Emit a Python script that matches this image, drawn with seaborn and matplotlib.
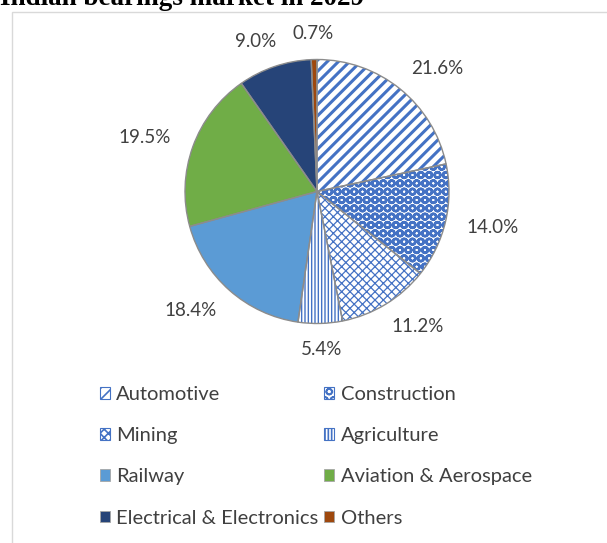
import matplotlib
matplotlib.use("Agg")
import numpy as np
import matplotlib.pyplot as plt
from matplotlib.patches import Rectangle, Patch
import seaborn as sns

sectors = ["Automotive", "Construction", "Mining", "Agriculture", "Railway",
           "Aviation & Aerospace", "Electrical & Electronics", "Others"]
shares = [21.6, 14.0, 11.2, 5.4, 18.4, 19.5, 9.0, 0.7]
title = "Indian bearings market in 2029"

sns.set_theme(style="white")
plt.rcParams["font.family"] = ["Lato", "DejaVu Sans"]
plt.rcParams["hatch.linewidth"] = 1.2

blue = "#4472C4"
fills = ["white", "white", "white", "white", "#5B9BD5", "#70AD47", "#264478", "#9E480E"]
hatches = ["///", "OO", "xxxx", "|||||", None, None, None, None]
hatch_lw = [2.2, 1.8, 0.9, 1.0, 1, 1, 1, 1]
grey_txt = "#404040"

W, H = 607, 543
R_PX = 132  # pie radius in pixels

fig = plt.figure(figsize=(W / 100, H / 100), dpi=100)
fig.patches.append(Rectangle((12 / W, -0.1), 1, 1.1 - 12 / H, transform=fig.transFigure,
                             fill=False, edgecolor="#d9d9d9", lw=1))
fig.text(0.0, 1 - 5 / H, title, fontsize=19.5, fontweight="bold",
         family="Liberation Serif", va="baseline", color="black")

ax = fig.add_axes([(317 - R_PX) / W, (H - 191.5 - R_PX) / H, 2 * R_PX / W, 2 * R_PX / H])
# hatched / filled wedges (hatch colour follows the edge colour)
wedges, _ = ax.pie(shares, colors=fills, startangle=90, counterclock=False,
                   wedgeprops=dict(linewidth=0, edgecolor=blue))
for w, h, lw in zip(wedges, hatches, hatch_lw):
    if h:
        w.set_hatch(h)
        if hasattr(w, "set_hatch_linewidth"):
            w.set_hatch_linewidth(lw)
# grey outlines on top
ax.pie(shares, colors=["none"] * len(shares), startangle=90, counterclock=False,
       wedgeprops=dict(linewidth=1, edgecolor="#8c8c8c", fill=False))
ax.set_xlim(-1, 1)
ax.set_ylim(-1, 1)

# percentage labels just outside the pie, pushed out by half their box size
texts = []
for w, v in zip(wedges, shares):
    t = ax.text(0, 0, f"{v:.1f}%", ha="center", va="center",
                color=grey_txt, fontsize=13.5)
    texts.append(t)
fig.canvas.draw()
rend = fig.canvas.get_renderer()
for w, t in zip(wedges, texts):
    th = np.deg2rad((w.theta1 + w.theta2) / 2)
    bb = t.get_window_extent(rend)
    c, s = np.cos(th), np.sin(th)
    push = 10 * np.sign(c) * abs(np.sin(2 * th))  # excel-ish sideways nudge
    x = 1.135 * c + (bb.width / 2 * c + push) / R_PX
    y = 1.135 * s + (bb.height / 2 * s) / R_PX
    t.set_position((x, y))

handles = []
for f, h in zip(fills, hatches):
    if h:
        p = Patch(facecolor="white", edgecolor=blue, hatch=h, linewidth=0.8)
    else:
        p = Patch(facecolor=f, edgecolor="#a6a6a6", linewidth=0.6)
    handles.append(p)

order = [0, 2, 4, 6, 1, 3, 5, 7]
fig.legend([handles[i] for i in order], [sectors[i] for i in order], ncol=2,
           loc="upper left", bbox_to_anchor=(100 / W, 1 - 386 / H),
           frameon=False, fontsize=14.5, labelcolor=grey_txt,
           handlelength=0.5, handleheight=0.5, handletextpad=0.3,
           labelspacing=1.2, columnspacing=0.3, borderpad=0, borderaxespad=0)

fig.savefig("out.png", dpi=100)
